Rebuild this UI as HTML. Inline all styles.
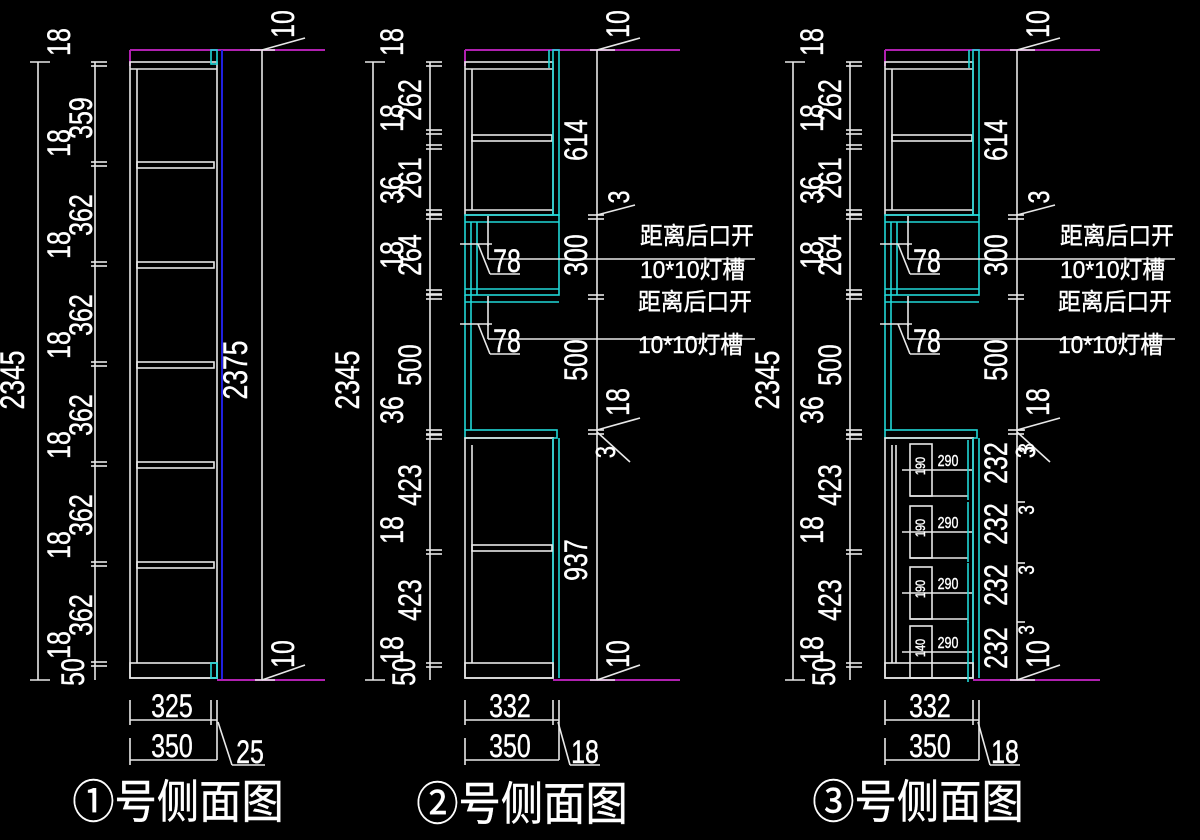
<!DOCTYPE html>
<html><head><meta charset="utf-8"><style>
html,body{margin:0;padding:0;background:#000;width:1200px;height:840px;overflow:hidden}
svg{display:block}
text{font-family:"Liberation Sans","Noto Sans CJK SC",sans-serif;fill:#fff;stroke:#fff;stroke-width:0.4}
</style></head><body>
<svg id="s" width="1200" height="840" viewBox="0 0 1200 840" xmlns="http://www.w3.org/2000/svg">
<rect width="1200" height="840" fill="#000"/>
</svg>
<script>
const s=document.getElementById('s');let h='';
const W='#e8e8e8',C='#20d8d8',M='#b020b0',B='#2020e0';
function L(x1,y1,x2,y2,c=W,w=1.6){h+=`<line x1="${x1}" y1="${y1}" x2="${x2}" y2="${y2}" stroke="${c}" stroke-width="${w}"/>`}
function R(x,y,w,hh,c=W,sw=1.6){h+=`<rect x="${x}" y="${y}" width="${w}" height="${hh}" fill="none" stroke="${c}" stroke-width="${sw}"/>`}
function V(t,x,y,fs=32){h+=`<text transform="translate(${x},${y}) rotate(-90) scale(0.78,1)" font-size="${fs}" text-anchor="middle">${t}</text>`}
function T(t,x,y,fs=32,sx=0.78,a='middle'){h+=`<text transform="translate(${x},${y}) scale(${sx},1)" font-size="${fs}" text-anchor="${a}">${t}</text>`}
function ticks(x,ys){ys.forEach(y=>{L(x-4,y,x+12,y);L(x-4,y+4,x+12,y+4);});}

function leftDims(o){
  L(o+38,62,o+38,680);L(o+30,62,o+50,62);L(o+30,680,o+50,680);
  V('2345',o+24,380,34);
  L(o+95,62,o+95,680);
}
(function(){
 leftDims(0);
 L(130,50,325,50,M,2);L(130,50,130,66,M,2);
 R(130,62,87,616);L(137,69,137,663);L(130,69,217,69);
 [162,262,362,462,562].forEach(y=>R(137,y,77,6));
 R(130,663,87,15);
 R(211,50,6,14,C);R(211,663,6,15,C);
 L(222,50,222,680,B,2);
 L(217,680,325,680,M,2);
 L(262,50,262,680);V('2375',247,370,34);
 L(250,50,275,50);L(255,680,275,680);
 L(262,50,305,38);V('10',294,24);L(262,680,305,665);V('10',294,654);
 ticks(95,[62,162,262,362,462,562,662]);
 V('18',70,42);V('359',92,118);V('18',70,143);V('362',92,215);V('18',70,245);V('362',92,315);
 V('18',70,345);V('362',92,415);V('18',70,445);V('362',92,515);V('18',70,545);V('362',92,615);V('18',70,645);V('50',84,672);
 L(130,700,130,725);L(211,700,211,725);L(217,700,217,760);L(130,738,130,765);
 L(130,720,217,720);L(130,760,217,760);T('325',172,717);T('350',172,757);
 L(218,722,232,765);L(232,765,265,765);T('25',250,763);
 T('①号侧面图',178,818,46,0.92);
})();
function cab(o,drawers){
 leftDims(o+335);
 L(o+465,50,o+680,50,M,2);L(o+465,50,o+465,66,M,2);
 R(o+465,62,88,153);L(o+472,69,o+472,210);L(o+465,69,o+553,69);R(o+472,135,80,6);L(o+465,210,o+553,210);
 R(o+553,50,6,165,C);L(o+549,50,o+549,68,C);
 R(o+465,215,94,80,C);L(o+465,222,o+559,222,C);L(o+471,222,o+471,295,C);L(o+477,222,o+477,295,C);
 L(o+465,289,o+559,289,C);
 L(o+465,295,o+465,430,C);L(o+471,295,o+471,430,C);L(o+465,302,o+559,302,C);
 [222,302].forEach(y=>{L(o+488,y-6,o+488,y+24);L(o+460,y+22,o+492,y+22);L(o+488,y+22,o+488,y+37);L(o+488,y+37,o+755,y+37);
   L(o+478,y+22,o+490,y+52);L(o+490,y+52,o+520,y+52);T('78',o+507,y+50,32);});
 R(o+465,430,92,8,C);R(o+465,438,88,240);L(o+472,445,o+472,663);L(o+553,438,o+553,678,C);L(o+559,438,o+559,678,C);
 R(o+465,663,88,15);
 if(!drawers){R(o+472,545,80,6);}
 else{
  ['190','190','190','140'].forEach((d,i)=>{
   const yt=[440,502,563,622][i];
   R(o+490,yt+4,22,52);L(o+482,yt+30,o+552,yt+30);L(o+490,yt+56,o+548,yt+56);L(o+548,yt,o+548,yt+60,C);
   V(d,o+505,yt+26,14);T('290',o+528,yt+26,16);
  });
  L(o+476,445,o+476,663);
 }
 L(o+553,680,o+680,680,M,2);
 L(o+597,50,o+597,680);L(o+590,50,o+615,50);L(o+590,680,o+615,680);
 L(o+597,50,o+640,38);V('10',o+629,24);L(o+597,680,o+640,665);V('10',o+629,654);
 ticks(o+592,[215,295,430]);
 L(o+597,215,o+635,205);V('3',o+629,197,30);
 V('614',o+587,140);V('300',o+587,255);V('500',o+587,360);
 L(o+597,430,o+640,418);V('18',o+629,402);L(o+597,432,o+630,462);V('3',o+615,452,28);
 if(!drawers){V('937',o+587,560);}
 else{[463,524,585,648].forEach(y=>V('232',o+587,y));[448,510,570,630].forEach(y=>{V('3',o+614,y,22);});
      [430,502,563,622].forEach(y=>{L(o+597,y,o+605,y)});}
 ticks(o+430,[62,130,145,210,215,290,295,430,435,550,663]);
 V('18',o+403,42);V('18',o+403,118);V('262',o+421,100);V('36',o+403,190);V('261',o+421,178);V('18',o+403,255);V('264',o+421,255);
 V('500',o+421,365);V('36',o+403,410);V('423',o+421,485);V('18',o+403,530);V('423',o+421,600);V('18',o+403,650);V('50',o+415,672);
 L(o+465,700,o+465,725);L(o+553,700,o+553,725);L(o+559,700,o+559,760);L(o+465,738,o+465,765);
 L(o+465,720,o+559,720);L(o+465,760,o+559,760);T('332',o+510,717);T('350',o+510,757);
 L(o+558,722,o+570,765);L(o+570,765,o+600,765);T('18',o+585,763);
 T('距离后口开',o+640,244,24,0.95,'start');T('10*10灯槽',o+640,278,24,0.95,'start');
 T('距离后口开',o+638,310,24,0.95,'start');T('10*10灯槽',o+638,353,24,0.95,'start');
}
cab(0,false);
h+=`<text transform="translate(522,820) scale(0.92,1)" font-size="46" text-anchor="middle">②号侧面图</text>`;
cab(420,true);
h+=`<text transform="translate(918,818) scale(0.92,1)" font-size="46" text-anchor="middle">③号侧面图</text>`;
s.insertAdjacentHTML('beforeend',h);
</script>
</body></html>
